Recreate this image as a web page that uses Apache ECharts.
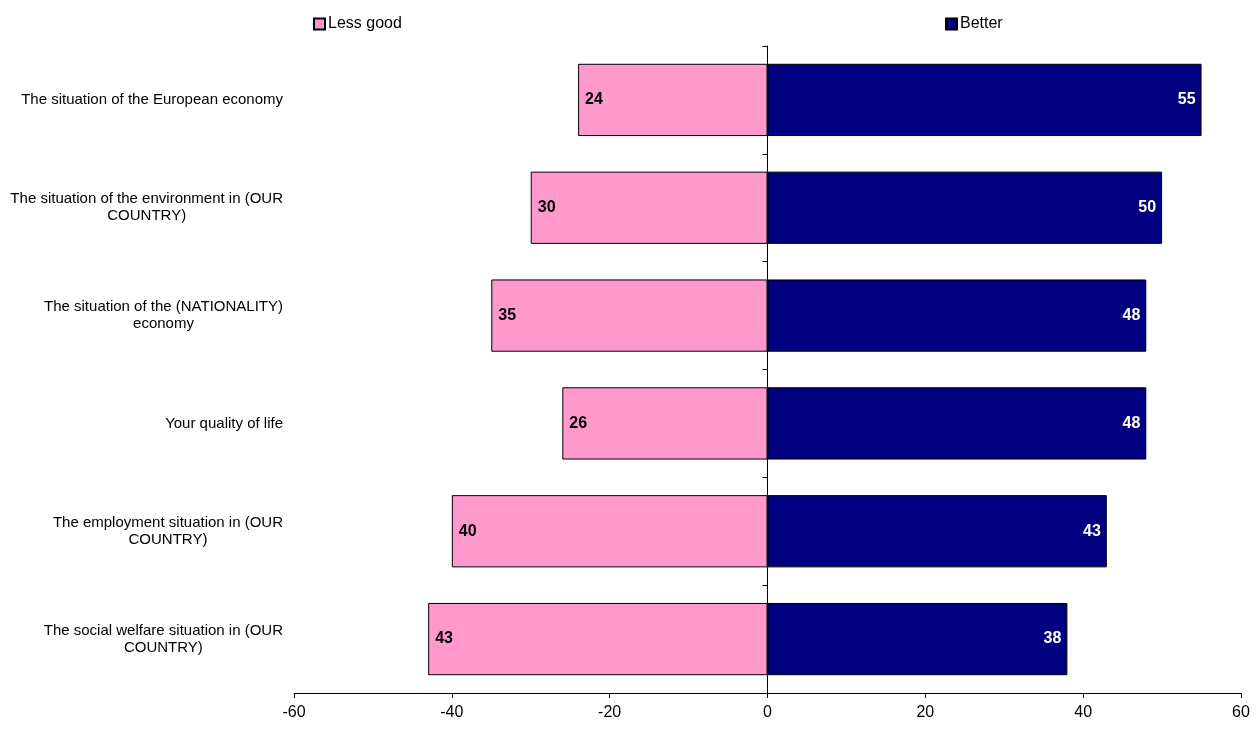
<!DOCTYPE html>
<html>
<head>
<meta charset="utf-8">
<script src="https://cdn.jsdelivr.net/npm/echarts@6/dist/echarts.min.js"></script>
<style>
  html, body { margin: 0; padding: 0; background: #fff; }
  #chart { width: 1258px; height: 731px; }
</style>
</head>
<body>
<div id="chart"></div>
<script>
// categories, top to bottom
const categories = [
  'The situation of the European economy',
  'The situation of the environment in (OUR\nCOUNTRY)',
  'The situation of the (NATIONALITY)\neconomy',
  'Your quality of life',
  'The employment situation in (OUR\nCOUNTRY)',
  'The social welfare situation in (OUR\nCOUNTRY)'
];
const lessGood = [24, 30, 35, 26, 40, 43];
const better = [55, 50, 48, 48, 43, 38];
const xTicks = [-60, -40, -20, 0, 20, 40, 60];

const chart = echarts.init(document.getElementById('chart'));
const font = 'Liberation Sans, Arial, sans-serif';

chart.setOption({
  animation: false,
  textStyle: { fontFamily: font },
  legend: [
    {
      data: ['Less good'],
      left: 308, top: 11,
      icon: 'rect', itemWidth: 11, itemHeight: 11, itemGap: 4,
      textStyle: { fontSize: 16, color: '#000', fontFamily: font, padding: [0, 0, 0, -2] }
    },
    {
      data: ['Better'],
      left: 940, top: 11,
      icon: 'rect', itemWidth: 11, itemHeight: 11, itemGap: 4,
      textStyle: { fontSize: 16, color: '#000', fontFamily: font, padding: [0, 0, 0, -2] }
    }
  ],
  grid: { left: 294, right: 17, top: 46, bottom: 38 },
  xAxis: {
    type: 'value',
    min: -60, max: 60, interval: 20,
    axisLine: { show: true, lineStyle: { color: '#000' } },
    axisTick: { show: true, length: 5, lineStyle: { color: '#000' } },
    axisLabel: { fontSize: 16, color: '#000', margin: 12, fontFamily: font,
      formatter: v => xTicks.includes(v) ? String(v) : '' },
    splitLine: { show: false }
  },
  yAxis: [
    {
      type: 'category',
      data: categories,
      inverse: true,
      position: 'left',
      axisLine: { show: false, onZero: false },
      axisTick: { show: false },
      axisLabel: {
        margin: 11,
        fontSize: 15,
        color: '#000',
        fontFamily: font,
        lineHeight: 17,
        formatter: v => v.split('\n').map(s => '{c|' + s + '}').join('\n'),
        rich: { c: { align: 'center', fontSize: 15, fontFamily: font, color: '#000', lineHeight: 17 } }
      }
    },
    {
      type: 'category',
      data: categories,
      inverse: true,
      position: 'left',
      axisLine: { show: true, onZero: true, lineStyle: { color: '#000' } },
      axisTick: { show: true, length: 5, lineStyle: { color: '#000' } },
      axisLabel: { show: false }
    }
  ],
  series: [
    {
      name: 'Less good',
      type: 'bar',
      stack: 'all',
      barWidth: '67%',
      data: lessGood.map(v => -v),
      itemStyle: { color: '#FF99CC', borderColor: '#000', borderWidth: 1 },
      label: {
        show: true, position: 'insideLeft', distance: 7,
        formatter: p => Math.abs(p.value),
        fontSize: 16, fontWeight: 'bold', color: '#000', fontFamily: font
      }
    },
    {
      name: 'Better',
      type: 'bar',
      stack: 'all',
      barWidth: '67%',
      data: better,
      itemStyle: { color: '#000080', borderColor: '#000', borderWidth: 1 },
      label: {
        show: true, position: 'insideRight', distance: 6,
        formatter: p => p.value,
        fontSize: 16, fontWeight: 'bold', color: '#fff', fontFamily: font
      }
    }
  ]
});
</script>
</body>
</html>
